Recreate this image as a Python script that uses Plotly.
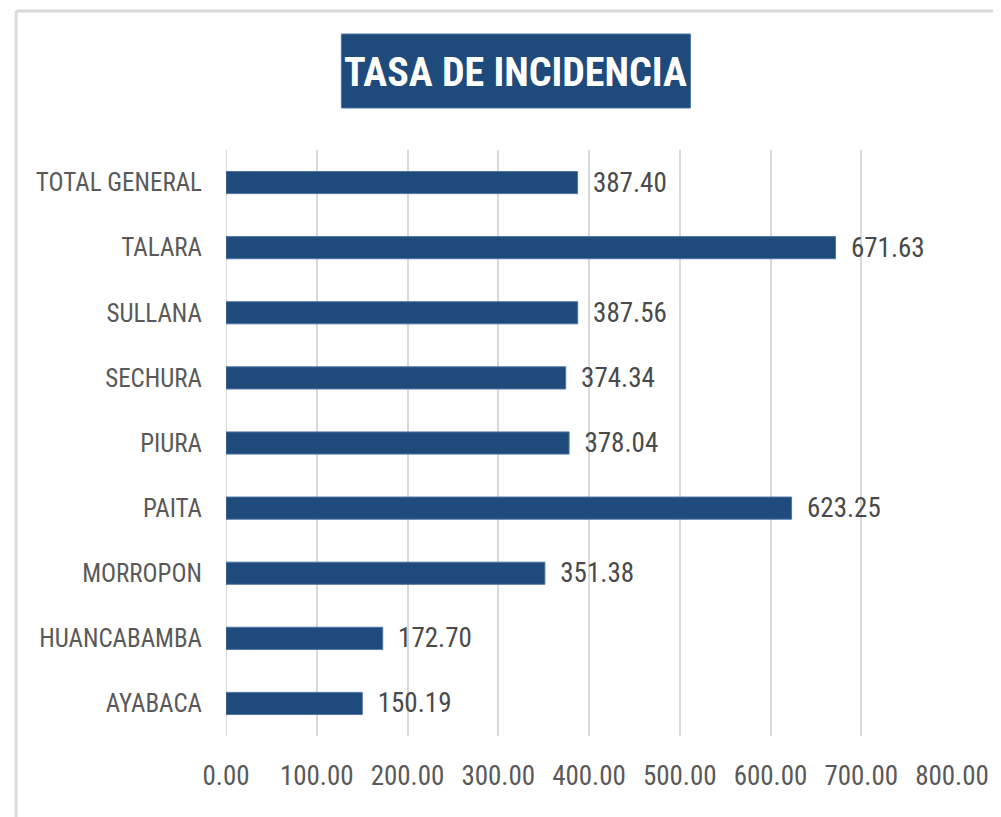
import plotly.graph_objects as go

# Tasa de incidencia por provincia
provincias = ['AYABACA', 'HUANCABAMBA', 'MORROPON', 'PAITA', 'PIURA',
              'SECHURA', 'SULLANA', 'TALARA', 'TOTAL GENERAL']
tasas = [150.19, 172.70, 351.38, 623.25, 378.04, 374.34, 387.56, 671.63, 387.40]
ticks_x = [0, 100, 200, 300, 400, 500, 600, 700, 800]

azul = '#1f4a7c'
gris = '#595959'
fuente = 'Liberation Sans Narrow, Arial Narrow, Roboto Condensed, sans-serif'

# the page body adds an 8px offset, so work in shifted pixels
OFF = 8
W, H = 1001 - OFF, 817 - OFF
L, R, T, B = 226 - OFF, 956 - OFF, 150 - OFF, 736 - OFF

fig = go.Figure(go.Bar(
    y=provincias,
    x=tasas,
    orientation='h',
    marker=dict(color=azul, line=dict(color='#4f74a6', width=1)),
    width=0.34,
    text=[f'{v:.2f}' for v in tasas],
    texttemplate='  %{text}',
    textposition='outside',
    constraintext='none',
    textfont=dict(family=fuente, size=27, color='#4a4a4a'),
    cliponaxis=False,
))

fig.update_xaxes(
    range=[0, 800],
    tickvals=ticks_x,
    ticktext=[f'{v:.2f}' for v in ticks_x],
    showgrid=True, gridcolor='#d9d9d9', gridwidth=2,
    zeroline=False, showline=False,
    ticks='outside', ticklen=16, tickcolor='rgba(0,0,0,0)',
    tickfont=dict(family=fuente, size=27, color=gris),
)
fig.update_yaxes(
    showgrid=False, zeroline=False, showline=False,
    ticks='outside', ticklen=18, tickcolor='rgba(0,0,0,0)',
    tickfont=dict(family=fuente, size=25, color=gris),
)

def px_x(p):
    return (p - OFF - L) / (R - L)

def px_y(p):
    return (B - (p - OFF)) / (B - T)

# zero line
fig.add_shape(type='line', xref='x', yref='paper', x0=0, x1=0, y0=0, y1=1,
              line=dict(color='#d9d9d9', width=2), layer='below')

# marco del grafico
fig.add_shape(type='line', xref='paper', yref='paper',
              x0=px_x(15), x1=px_x(15), y0=px_y(11), y1=px_y(830),
              line=dict(color='#d9d9d9', width=3))
fig.add_shape(type='line', xref='paper', yref='paper',
              x0=px_x(15), x1=px_x(1010), y0=px_y(11), y1=px_y(11),
              line=dict(color='#d9d9d9', width=3))

# caja del titulo
fig.add_shape(type='rect', xref='paper', yref='paper',
              x0=px_x(342), x1=px_x(693), y0=px_y(108), y1=px_y(34),
              fillcolor=azul, line=dict(color='#4f74a6', width=1))
fig.add_annotation(
    text='<b>TASA DE INCIDENCIA</b>', xref='paper', yref='paper',
    x=px_x(517), y=px_y(72), xanchor='center', yanchor='middle',
    showarrow=False,
    font=dict(family=fuente, size=40, color='white'),
)

fig.update_layout(
    width=W, height=H,
    margin=dict(l=L, r=W - R, t=T, b=H - B),
    plot_bgcolor='white', paper_bgcolor='white',
    bargap=0.66, showlegend=False,
)

fig.write_html('out.html')
